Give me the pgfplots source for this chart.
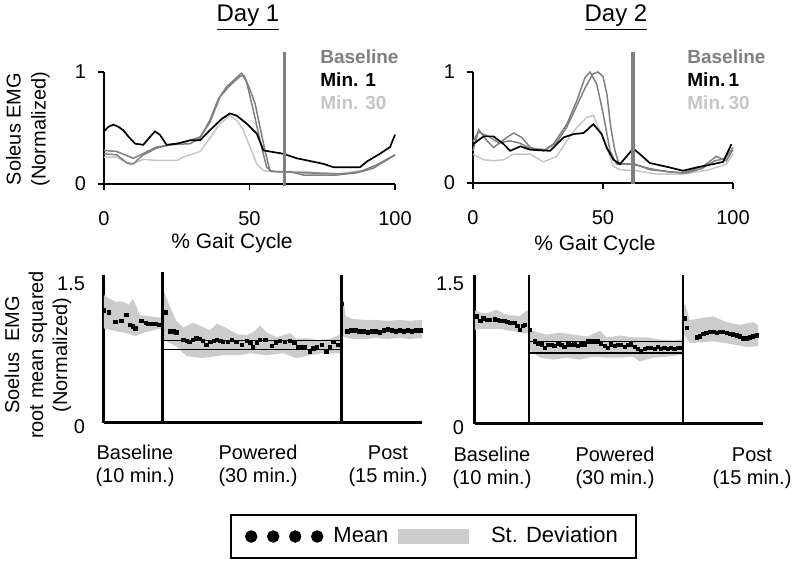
\documentclass[border=0pt]{standalone}
\usepackage{pgfplots}
\pgfplotsset{compat=1.18}
\usepackage{fontspec}
\setmainfont{Liberation Sans}
\definecolor{cBase}{HTML}{808080}
\definecolor{cM30}{HTML}{C6C6C6}
\definecolor{cBand}{HTML}{CCCCCC}
\pgfplotsset{
 topax/.style={scale only axis, anchor=south west, axis x line=bottom, axis y line=left,
   axis line style={-, line width=0.7pt, black}, xmin=0, xmax=100, ymin=0, ymax=1,
   xtick={0,50,100}, ytick={0,1}, tick align=outside, major tick length=3pt,
   tick style={line width=0.7pt, black}, clip=false, enlargelimits=false,
   /pgf/number format/assume math mode=true,
   tick label style={font=\fontsize{10}{12}\selectfont},
   xticklabel style={yshift=-7pt}, yticklabel style={xshift=-2.5pt}},
 botax/.style={scale only axis, anchor=south west, axis x line=bottom, axis y line=left,
   axis line style={-, line width=1.5pt, black}, xmin=0, xmax=55, ymin=0, ymax=1.55,
   xtick=\empty, ytick={0,1.5}, major tick length=0pt, clip=false, enlargelimits=false,
   /pgf/number format/assume math mode=true,
   tick label style={font=\fontsize{10}{12}\selectfont}, yticklabel style={yshift=-2pt}},
 meanpts/.style={only marks, mark=square*, mark size=0.85pt, black},
}
\begin{document}
\begin{tikzpicture}
\begin{scope}[x=0.5pt,y=0.5pt]
\useasboundingbox (0,0) rectangle (800,568);
\node[font=\fontsize{12}{14}\selectfont] at (248,550) {\underline{Day 1}};
\node[font=\fontsize{12}{14}\selectfont] at (616,550) {\underline{Day 2}};
\node[rotate=90, align=center, font=\fontsize{10}{12.5}\selectfont] at (28,439) {Soleus EMG\\(Normalized)};
\node[font=\fontsize{10.5}{12}\selectfont] at (232,325) {\% Gait Cycle};
\node[font=\fontsize{10.5}{12}\selectfont] at (595,323) {\% Gait Cycle};
\node[anchor=west, inner sep=0pt, font=\bfseries\fontsize{9.5}{11}\selectfont, text=cBase] at (320,511) {Baseline};
\node[anchor=west, inner sep=0pt, font=\bfseries\fontsize{9.5}{11}\selectfont, text=black] at (320,488) {Min. 1};
\node[anchor=west, inner sep=0pt, font=\bfseries\fontsize{9.5}{11}\selectfont, text=cM30] at (320,465) {Min. 30};
\node[anchor=west, inner sep=0pt, font=\bfseries\fontsize{9.5}{11}\selectfont, text=cBase] at (687,511) {Baseline};
\node[anchor=west, inner sep=0pt, font=\bfseries\fontsize{9.5}{11}\selectfont, text=black] at (687,488) {Min.\,1};
\node[anchor=west, inner sep=0pt, font=\bfseries\fontsize{9.5}{11}\selectfont, text=cM30] at (687,465) {Min.\,30};
\node[rotate=90, align=center, font=\fontsize{10}{12}\selectfont] at (38,213) {Soelus\ \ EMG\\root mean squared\\(Normalized)};
\node[align=center, font=\fontsize{10}{11.5}\selectfont] at (135,102) {Baseline\\(10 min.)};
\node[align=center, font=\fontsize{10}{11.5}\selectfont] at (258,102) {Powered\\(30 min.)};
\node[align=center, font=\fontsize{10}{11.5}\selectfont] at (388,102) {Post\\(15 min.)};
\node[align=center, font=\fontsize{10}{11.5}\selectfont] at (492,100) {Baseline\\(10 min.)};
\node[align=center, font=\fontsize{10}{11.5}\selectfont] at (615,100) {Powered\\(30 min.)};
\node[align=center, font=\fontsize{10}{11.5}\selectfont] at (752,100) {Post\\(15 min.)};
\end{scope}

% ---------------- Day 1 top
\begin{axis}[topax, at={(52pt,192pt)}, width=145.5pt, height=56pt]
\addplot[cM30, line width=0.75pt] coordinates {(0,0.24) (4.4,0.24) (8.9,0.17) (13.5,0.22) (18.1,0.21) (25,0.21) (27.3,0.24) (33,0.29) (36.4,0.41) (39.9,0.54) (43.3,0.61) (45.6,0.57) (47.9,0.48) (50.2,0.33) (52.5,0.18) (54.8,0.12) (59.3,0.11) (68.5,0.11) (80,0.09) (89,0.12) (94.8,0.18) (100,0.26)};
\addplot[cBase, line width=0.75pt] coordinates {(0,0.27) (4.4,0.26) (7.8,0.19) (10,0.18) (13.5,0.26) (18,0.32) (22.7,0.35) (29.6,0.36) (33,0.41) (36.4,0.57) (39.3,0.76) (42.2,0.87) (45.6,0.95) (47.3,0.99) (49,0.91) (51.3,0.66) (53.6,0.39) (55.9,0.15) (57.6,0.11) (64,0.11) (68.5,0.08) (80,0.08) (86.8,0.10) (92.5,0.14) (100,0.26)};
\addplot[cBase, line width=0.75pt] coordinates {(0,0.30) (4.4,0.29) (10.1,0.23) (18.1,0.33) (27.3,0.37) (33,0.42) (36.4,0.55) (39.9,0.78) (43.3,0.88) (46.7,0.96) (48.1,0.97) (50.2,0.84) (51.9,0.72) (53.6,0.51) (55.3,0.30) (57,0.12) (59.3,0.11) (68.5,0.10) (82.2,0.09) (88,0.11) (93.7,0.17) (100,0.26)};
\addplot[black, line width=0.85pt] coordinates {(0,0.47) (1.5,0.51) (3.2,0.53) (5,0.51) (6.6,0.48) (8.5,0.42) (10.7,0.36) (13.5,0.35) (15.8,0.42) (17.5,0.47) (19.2,0.44) (21.5,0.35) (25,0.36) (29.6,0.39) (33,0.39) (36.4,0.48) (40.4,0.58) (43.3,0.63) (45.6,0.61) (49,0.54) (52.5,0.45) (54.8,0.30) (57,0.29) (61.6,0.27) (66.2,0.23) (75.4,0.18) (78.8,0.15) (88,0.15) (90.3,0.20) (94.8,0.27) (98.3,0.33) (100,0.44)};
\addplot[cBase, line width=1.5pt] coordinates {(62,-0.02) (62,1.18)};
\end{axis}

% ---------------- Day 2 top
\begin{axis}[topax, at={(236.5pt,192.5pt)}, width=130pt, height=55.5pt]
\addplot[cM30, line width=0.75pt] coordinates {(0,0.26) (4.1,0.21) (7.9,0.20) (11.8,0.21) (15.6,0.26) (22,0.26) (27.1,0.19) (32.2,0.24) (36.1,0.38) (39.9,0.50) (43.7,0.59) (46.3,0.61) (48.8,0.47) (51.4,0.32) (54,0.15) (56.5,0.12) (62.9,0.11) (70.6,0.08) (80.8,0.08) (91,0.12) (97.4,0.17) (100,0.26)};
\addplot[cBase, line width=0.75pt] coordinates {(0,0.29) (2.2,0.48) (5.4,0.38) (7.9,0.32) (13,0.41) (15.6,0.45) (18.8,0.41) (22,0.32) (27.1,0.29) (30.9,0.35) (36.1,0.53) (39.9,0.74) (43.1,0.95) (45,1.0) (47.6,0.89) (50.1,0.62) (52.7,0.29) (55.2,0.17) (59.1,0.17) (62.3,0.17) (68,0.12) (80.8,0.09) (88.5,0.15) (93.6,0.24) (97.4,0.20) (100,0.30)};
\addplot[cBase, line width=0.75pt] coordinates {(0,0.37) (2,0.46) (6,0.42) (10,0.36) (14,0.38) (18,0.36) (22,0.31) (28,0.30) (32,0.36) (36,0.50) (40,0.70) (43,0.85) (46,0.98) (48,1.0) (50,0.96) (51.5,0.80) (53,0.50) (54.5,0.30) (56,0.18) (60,0.17) (63,0.16) (68,0.13) (75,0.10) (82,0.09) (88,0.13) (93,0.20) (97,0.22) (100,0.32)};
\addplot[black, line width=0.85pt] coordinates {(0,0.35) (4.1,0.42) (7.9,0.42) (11.8,0.35) (14.3,0.29) (18.2,0.33) (22,0.30) (29.7,0.29) (34.8,0.41) (38.6,0.44) (42.5,0.45) (46.3,0.53) (49.5,0.44) (51.4,0.32) (54,0.21) (56.5,0.17) (59.1,0.24) (61.6,0.31) (64.2,0.26) (68,0.18) (75.7,0.14) (80.8,0.11) (85.9,0.14) (92.3,0.17) (96.2,0.19) (99.4,0.35)};
\addplot[cBase, line width=2pt] coordinates {(61.5,-0.01) (61.5,1.18)};
\end{axis}

% ---------------- Day 1 bottom
\begin{axis}[botax, at={(52pt,72.5pt)}, width=159pt, height=74pt,
  yticklabel style={xshift=-6pt},
  legend style={at={(1.036,-0.767)}, anchor=center, draw=black, line width=0.8pt,
    font=\fontsize{11}{13}\selectfont, legend columns=2, inner xsep=7pt, inner ysep=4pt,
    /tikz/every even column/.append style={column sep=3pt}}]
\addplot[fill=cBand, draw=none, forget plot] coordinates {(0,1.34) (1,1.30) (2,1.27) (3.3,1.27) (4.3,1.24) (5,1.30) (5.6,1.22) (6.2,1.13) (7.5,1.12) (9.1,1.11) (10.2,1.10) (10.2,0.99) (9,0.98) (7.1,0.95) (5.5,0.91) (4,0.94) (2.2,0.96) (0,0.99)};
\addplot[fill=cBand, draw=none, forget plot] coordinates {(10.2,1.37) (10.4,1.37) (11.4,1.22) (12.5,1.07) (13.7,1.0) (15.4,1.05) (16.6,1.02) (18.3,0.97) (19.5,1.04) (21,1.0) (23,0.93) (24.7,0.92) (26,0.96) (27,1.02) (28.1,0.95) (29.8,0.9) (32.2,0.94) (33.3,0.88) (35,0.89) (36.8,0.87) (39.1,0.88) (41,0.93) (41,0.73) (37.9,0.73) (35.6,0.71) (33.3,0.68) (31,0.73) (28.1,0.71) (25.3,0.73) (23.5,0.71) (20.6,0.71) (17.1,0.68) (14.3,0.70) (12.5,0.80) (10.4,0.87) (10.2,0.87)};
\addplot[fill=cBand, draw=none, forget plot] coordinates {(41,1.40) (41.5,1.25) (41.8,1.12) (43,1.09) (45,1.08) (47,1.08) (49,1.07) (51,1.08) (53,1.07) (55,1.08) (55,0.89) (53,0.88) (51,0.89) (49,0.88) (47,0.89) (45,0.88) (43,0.88) (41.5,0.90) (41,0.95)};
\addplot[black, line width=0.6pt, forget plot] coordinates {(10.2,0.86) (41,0.86)};
\addplot[black, line width=0.6pt, forget plot] coordinates {(10.2,0.77) (41,0.77)};
\addplot[meanpts, forget plot] coordinates {(0,1.18) (0.87,1.16) (2.0,1.06) (3.0,1.07) (3.9,1.13) (4.5,1.03) (5.0,1.01) (5.4,0.99) (6.5,1.07) (7.2,1.05) (7.7,1.04) (8.3,1.04) (8.9,1.04) (9.5,1.03) (10,1.03)};
\addplot[meanpts, forget plot] coordinates {(10.7,1.16) (11.4,0.96) (12.0,0.96) (12.5,0.95) (13.7,0.87) (14.3,0.86) (14.8,0.85) (15.4,0.87) (16,0.89) (16.5,0.88) (17.1,0.86) (17.7,0.82) (18.4,0.85) (19,0.86) (19.5,0.87) (20.1,0.86) (20.6,0.85) (21.4,0.85) (22.1,0.87) (22.9,0.85) (23.8,0.82) (24.7,0.86) (25.3,0.84) (25.8,0.80) (26.4,0.84) (27,0.87) (27.9,0.87) (29,0.81) (29.7,0.84) (30.4,0.86) (31.3,0.85) (32.2,0.86) (32.9,0.84) (33.6,0.80) (34.2,0.80) (34.8,0.80) (35.6,0.75) (36.2,0.78) (36.8,0.79) (37.7,0.82) (38.5,0.75) (39.1,0.80) (39.7,0.85) (40.5,0.82)};
\addplot[meanpts, forget plot] coordinates {(41.2,1.25) (42.1,0.96) (42.8,0.97) (43.5,0.97) (44.2,0.96) (44.9,0.96) (45.6,0.95) (46.3,0.96) (47,0.96) (47.7,0.95) (48.4,0.97) (49.1,0.98) (49.8,0.97) (50.5,0.96) (51.2,0.97) (51.9,0.96) (52.6,0.97) (53.3,0.96) (54,0.97) (54.7,0.97)};
\addplot[black, line width=1.5pt, forget plot] coordinates {(10.2,0) (10.2,1.58)};
\addplot[black, line width=1.5pt, forget plot] coordinates {(41,0) (41,1.55)};
\addlegendimage{/pgfplots/legend image code/.code={%
  \fill[black] (2.7pt,0pt) circle (2.7pt);
  \fill[black] (13.7pt,0pt) circle (2.7pt);
  \fill[black] (24.7pt,0pt) circle (2.7pt);
  \fill[black] (35.7pt,0pt) circle (2.7pt);}}
\addlegendentry{\hspace{3pt}Mean}
\addlegendimage{/pgfplots/legend image code/.code={%
  \fill[cBand] (0pt,-3.5pt) rectangle (34.5pt,3.5pt);}}
\addlegendentry{\hspace{9pt}St. Deviation}
\end{axis}

% ---------------- Day 2 bottom
\begin{axis}[botax, at={(237.5pt,72pt)}, width=144pt, height=74.5pt,
  yticklabel style={xshift=-2pt}]
\addplot[fill=cBand, draw=none] coordinates {(0,1.18) (1,1.16) (2.2,1.15) (3.2,1.17) (4.1,1.19) (5.4,1.15) (6.5,1.13) (7.3,1.13) (8.5,1.12) (9.9,1.18) (10.3,1.18) (10.3,0.95) (9.5,0.94) (8,0.96) (6.5,0.97) (5,0.99) (3,0.99) (1.5,0.99) (0,0.98)};
\addplot[fill=cBand, draw=none] coordinates {(10.3,1.0) (11.5,0.96) (13.7,0.93) (16.2,0.95) (18.8,0.93) (21.4,0.91) (23.9,0.97) (25.1,0.90) (27.7,0.92) (30.2,0.90) (32.8,0.90) (35.3,0.88) (37.9,0.87) (39.7,0.88) (39.7,0.72) (36.6,0.70) (34,0.69) (31.5,0.65) (30.2,0.70) (27.7,0.69) (25.1,0.69) (22.6,0.70) (20,0.67) (17.5,0.69) (15,0.67) (12.4,0.69) (10.3,0.77)};
\addplot[fill=cBand, draw=none] coordinates {(39.7,1.24) (40.2,1.24) (41,1.08) (43,1.10) (45.5,1.12) (48,1.06) (50.6,1.03) (52,1.05) (53.2,1.06) (54,1.03) (54,0.81) (52,0.80) (50,0.82) (48,0.84) (45.5,0.86) (43,0.85) (41,0.84) (40.2,0.91) (39.7,0.95)};
\addplot[black, line width=0.6pt] coordinates {(10.3,0.86) (39.7,0.86)};
\addplot[black, line width=1pt] coordinates {(10.3,0.74) (39.7,0.74)};
\addplot[meanpts] coordinates {(0.3,1.12) (1,1.07) (1.6,1.10) (2.3,1.08) (2.9,1.08) (3.8,1.09) (4.3,1.08) (4.8,1.07) (5.3,1.07) (5.7,1.07) (6.2,1.06) (6.7,1.05) (7.2,1.05) (7.6,1.05) (8.1,1.02) (8.6,0.98) (9.1,1.02) (9.5,1.03)};
\addplot[meanpts] coordinates {(10.5,0.98) (11.4,0.86) (12.1,0.84) (12.8,0.83) (13.4,0.79) (14,0.82) (14.6,0.82) (15.2,0.81) (15.9,0.84) (16.5,0.82) (17.1,0.80) (17.8,0.83) (18.4,0.82) (19,0.83) (19.7,0.81) (20.3,0.83) (21,0.83) (21.6,0.86) (22.2,0.86) (22.9,0.86) (23.5,0.86) (24.1,0.84) (24.8,0.81) (25.4,0.79) (26,0.83) (26.7,0.81) (27.3,0.82) (27.9,0.82) (28.6,0.80) (29.2,0.82) (29.8,0.83) (30.5,0.80) (31.1,0.78) (31.7,0.76) (32.4,0.78) (33,0.79) (33.6,0.79) (34.3,0.78) (34.9,0.80) (35.5,0.78) (36.2,0.79) (36.8,0.78) (37.4,0.79) (38.1,0.78) (38.7,0.79) (39.3,0.79)};
\addplot[meanpts] coordinates {(40.1,1.10) (40.5,1.0) (42.4,0.90) (43,0.91) (43.6,0.94) (44.2,0.95) (44.9,0.96) (45.5,0.96) (46.2,0.95) (46.8,0.96) (47.4,0.96) (48.1,0.95) (48.7,0.94) (49.3,0.93) (50,0.92) (50.6,0.91) (51.2,0.89) (51.9,0.89) (52.5,0.90) (53.1,0.91) (53.8,0.92)};
\addplot[black, line width=0.8pt] coordinates {(10.3,0) (10.3,1.55)};
\addplot[black, line width=0.8pt] coordinates {(39.7,0) (39.7,1.55)};
\end{axis}
\end{tikzpicture}
\end{document}
